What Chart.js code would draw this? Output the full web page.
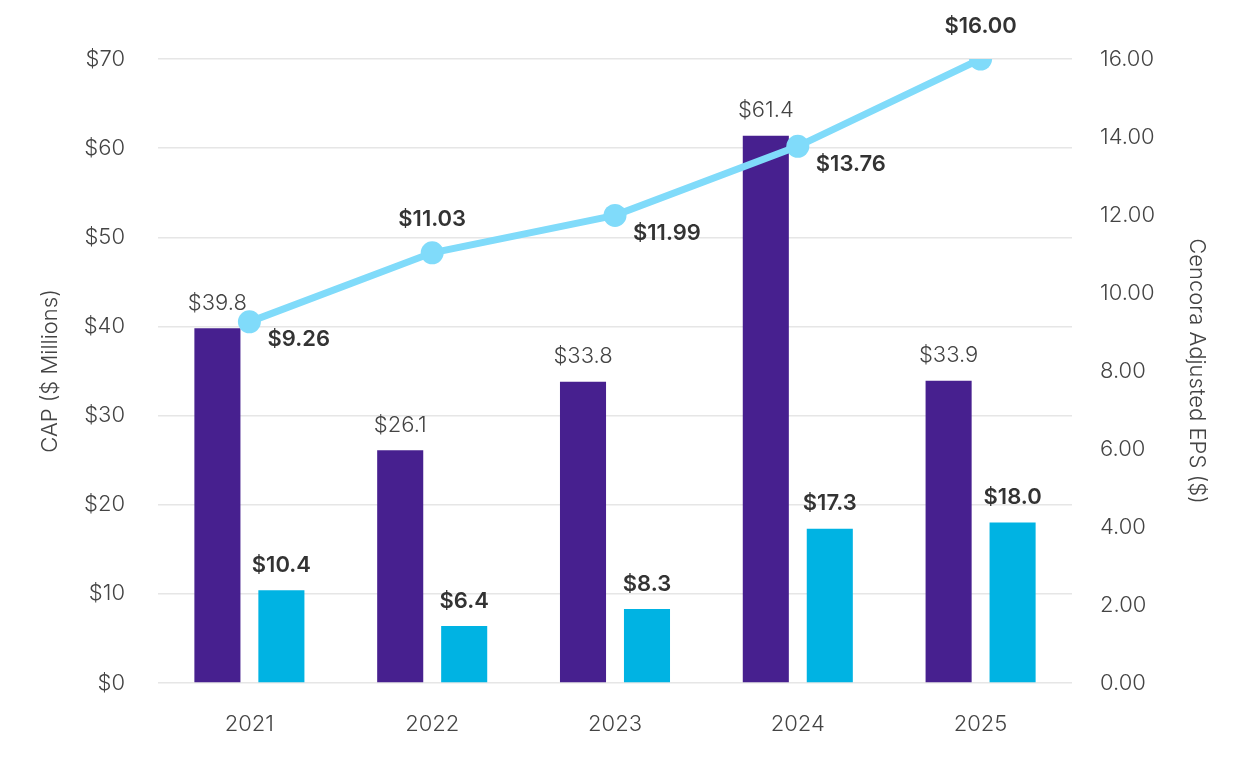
<!DOCTYPE html>
<html>
<head>
<meta charset="utf-8">
<script src="https://cdn.jsdelivr.net/npm/chart.js@4.4.1/dist/chart.umd.min.js"></script>
<style>
  body { margin: 0; background: #fff; }
  #wrap { width: 1248px; height: 760px; }
</style>
</head>
<body>
<div id="wrap"><canvas id="myChart" width="1248" height="760"></canvas></div>
<script>
// data
var years = ['2021', '2022', '2023', '2024', '2025'];
var capValues = [39.8, 26.1, 33.8, 61.4, 33.9];
var secondValues = [10.4, 6.4, 8.3, 17.3, 18.0];
var epsValues = [9.26, 11.03, 11.99, 13.76, 16.00];

var FONT = 'Inter, "Open Sans", sans-serif';

// draws the value labels next to bars and points
var valueLabels = {
  id: 'valueLabels',
  afterDatasetsDraw: function (chart) {
    var ctx = chart.ctx;
    ctx.save();
    ctx.textAlign = 'center';
    ctx.textBaseline = 'bottom';

    // purple bars - plain grey
    ctx.font = '300 22px ' + FONT;
    ctx.fillStyle = '#444444';
    chart.getDatasetMeta(0).data.forEach(function (bar, i) {
      ctx.fillText('$' + capValues[i].toFixed(1), bar.x, bar.y - 14);
    });

    // cyan bars - bold
    ctx.font = '600 22px ' + FONT;
    ctx.fillStyle = '#333333';
    chart.getDatasetMeta(1).data.forEach(function (bar, i) {
      ctx.fillText('$' + secondValues[i].toFixed(1), bar.x, bar.y - 14);
    });

    // line points - above or lower right
    chart.getDatasetMeta(2).data.forEach(function (pt, i) {
      var txt = '$' + epsValues[i].toFixed(2);
      if (i == 1 || i == 4) {
        ctx.textAlign = 'center';
        ctx.textBaseline = 'bottom';
        ctx.fillText(txt, pt.x, pt.y - 22);
      } else {
        ctx.textAlign = 'left';
        ctx.textBaseline = 'middle';
        ctx.fillText(txt, pt.x + 18, pt.y + 18);
      }
    });
    ctx.restore();
  }
};

var graph = document.getElementById('myChart');

var myChart = new Chart(graph, {
  type: 'bar',
  data: {
    labels: years,
    datasets: [{
      label: 'CAP',
      data: capValues,
      backgroundColor: '#47208f',
      yAxisID: 'y',
      order: 1
    }, {
      label: 'Comparison',
      data: secondValues,
      backgroundColor: '#00b3e3',
      yAxisID: 'y',
      order: 1
    }, {
      type: 'line',
      label: 'Cencora Adjusted EPS',
      data: epsValues,
      borderColor: '#80dbfa',
      backgroundColor: '#80dbfa',
      borderWidth: 7,
      pointRadius: 11.5,
      pointHoverRadius: 11.5,
      pointBorderWidth: 0,
      yAxisID: 'y1',
      order: 0
    }]
  },
  options: {
    responsive: false,
    animation: false,
    devicePixelRatio: 1,
    categoryPercentage: 0.7,
    barPercentage: 0.72,
    layout: { padding: { top: 59, left: 0, right: 0, bottom: 0 } },
    plugins: {
      legend: { display: false },
      tooltip: { enabled: false }
    },
    scales: {
      x: {
        grid: { display: false },
        border: { display: false },
        ticks: {
          color: '#444',
          padding: 20,
          font: { family: FONT, size: 22, weight: 300 }
        },
        afterFit: function (s) { s.height = 77; }
      },
      y: {
        position: 'left',
        min: 0,
        max: 70,
        ticks: {
          stepSize: 10,
          color: '#444',
          padding: 33,
          font: { family: FONT, size: 22, weight: 300 },
          callback: function (v) { return '$' + v; }
        },
        grid: { color: '#e6e6e6', lineWidth: 1.5, drawTicks: false },
        border: { display: false },
        title: {
          display: true,
          text: 'CAP ($ Millions)',
          color: '#444',
          padding: { top: 37, bottom: 0 },
          font: { family: FONT, size: 22, weight: 300 }
        },
        afterFit: function (s) { s.width = 158; }
      },
      y1: {
        position: 'right',
        min: 0,
        max: 16,
        ticks: {
          stepSize: 2,
          color: '#444',
          padding: 28,
          font: { family: FONT, size: 22, weight: 300 },
          callback: function (v) { return v.toFixed(2); }
        },
        grid: { display: false, drawTicks: false },
        border: { display: false },
        title: {
          display: true,
          text: 'Cencora Adjusted EPS ($)',
          color: '#444',
          padding: { top: 38, bottom: 0 },
          font: { family: FONT, size: 22, weight: 300 }
        },
        afterFit: function (s) { s.width = 176; }
      }
    }
  },
  plugins: [valueLabels]
}); // ends the chart
</script>
</body>
</html>
